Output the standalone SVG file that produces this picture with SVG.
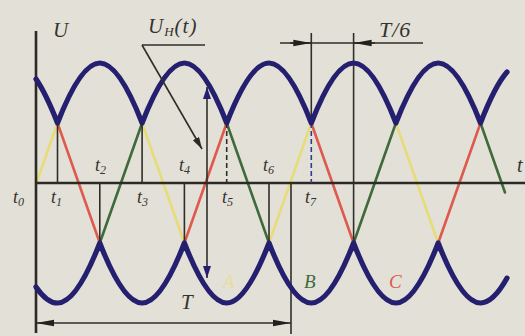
<svg xmlns="http://www.w3.org/2000/svg" width="525" height="336" viewBox="0 0 525 336">
<style>
.env{fill:none;stroke:#241f6e;stroke-width:5.2;stroke-linecap:round;stroke-linejoin:round}
.ph{stroke-width:2.6;stroke-linecap:round}
.y{stroke:#e6dc78}
.r{stroke:#de5a4e}
.g{stroke:#3f6a3c}
.ax{stroke:#2b2a24;stroke-width:2.6;fill:none}
.v{stroke:#2f2e28;stroke-width:1.6;fill:none}
.dash{stroke-dasharray:5 3}
.lbl{font-family:"Liberation Serif","Times New Roman",serif;font-style:italic;fill:#34332e}
.sub{font-size:12px}
</style>
<defs>
<marker id="ah" viewBox="0 0 18 8" refX="18" refY="4" markerWidth="18" markerHeight="8" markerUnits="userSpaceOnUse" orient="auto-start-reverse">
<path d="M0,0.8 L18,4 L0,7.2 z" fill="#22211d"/>
</marker>
<marker id="ahb" viewBox="0 0 12 8" refX="12" refY="4" markerWidth="12" markerHeight="8" markerUnits="userSpaceOnUse" orient="auto-start-reverse">
<path d="M0,0 L12,4 L0,8 z" fill="#241f6e"/>
</marker>
<marker id="ahs" viewBox="0 0 12 7" refX="12" refY="3.5" markerWidth="12" markerHeight="7" markerUnits="userSpaceOnUse" orient="auto">
<path d="M0,0 L12,3.5 L0,7 z" fill="#2b2a24"/>
</marker>
</defs>
<rect width="525" height="336" fill="#e3e0d7"/>

<g id="phases">
<line class="ph y" x1="36" y1="184" x2="57.5" y2="123"/>
<line class="ph y" x1="142.1" y1="123" x2="184.4" y2="243"/>
<line class="ph y" x1="269" y1="243" x2="311.3" y2="123"/>
<line class="ph y" x1="395.9" y1="123" x2="438.2" y2="243"/>
<line class="ph r" x1="57.5" y1="123" x2="99.8" y2="243"/>
<line class="ph r" x1="184.4" y1="243" x2="226.7" y2="123"/>
<line class="ph r" x1="311.3" y1="123" x2="353.6" y2="243"/>
<line class="ph r" x1="438.2" y1="243" x2="480.5" y2="123"/>
<line class="ph g" x1="99.8" y1="243" x2="142.1" y2="123"/>
<line class="ph g" x1="226.7" y1="123" x2="269" y2="243"/>
<line class="ph g" x1="353.6" y1="243" x2="395.9" y2="123"/>
<line class="ph g" x1="480.5" y1="123" x2="505" y2="192.5"/>
</g>

<g id="axes">
<line class="ax" x1="36" y1="31" x2="36" y2="333"/>
<line class="ax" x1="36" y1="183" x2="525" y2="183"/>
</g>

<g id="markers">
<line class="v" x1="57.5" y1="123" x2="57.5" y2="183"/>
<line class="v" x1="99.8" y1="183" x2="99.8" y2="243"/>
<line class="v" x1="142.1" y1="123" x2="142.1" y2="183"/>
<line class="v" x1="184.4" y1="183" x2="184.4" y2="243"/>
<line class="v dash" x1="226.7" y1="123" x2="226.7" y2="183"/>
<line class="v" x1="269" y1="183" x2="269" y2="243"/>
<line class="v" x1="311.3" y1="33" x2="311.3" y2="123"/>
<line class="v dash" x1="311.3" y1="123" x2="311.3" y2="183" style="stroke:#2d3f8a"/>
<line class="v" x1="353.6" y1="33" x2="353.6" y2="243"/>
<line class="v" x1="291" y1="183" x2="291" y2="334"/>
</g>

<g id="envelopes">
<path class="env" d="M36,79.08 C43.17,89.55 50.33,104.86 57.5,123 c14.1,-36.28 28.2,-60 42.3,-60 c14.1,0 28.2,23.72 42.3,60 c14.1,-36.28 28.2,-60 42.3,-60 c14.1,0 28.2,23.72 42.3,60 c14.1,-36.28 28.2,-60 42.3,-60 c14.1,0 28.2,23.72 42.3,60 c14.1,-36.28 28.2,-60 42.3,-60 c14.1,0 28.2,23.72 42.3,60 c14.1,-36.28 28.2,-60 42.3,-60 c14.1,0 28.2,23.72 42.3,60 C489.33,100.27 498.17,82.05 507,72.05"/>
<path class="env" d="M36,286.92 C43.17,297.39 50.33,303 57.5,303 c14.1,0 28.2,-23.72 42.3,-60 c14.1,36.28 28.2,60 42.3,60 c14.1,0 28.2,-23.72 42.3,-60 c14.1,36.28 28.2,60 42.3,60 c14.1,0 28.2,-23.72 42.3,-60 c14.1,36.28 28.2,60 42.3,60 c14.1,0 28.2,-23.72 42.3,-60 c14.1,36.28 28.2,60 42.3,60 c14.1,0 28.2,-23.72 42.3,-60 c14.1,36.28 28.2,60 42.3,60 C489.33,303 498.17,294.1 507,278.1"/>
</g>

<g id="dimensions">
<line class="v" x1="280" y1="43" x2="423" y2="43"/>
<line class="v" x1="290" y1="43" x2="311.3" y2="43" marker-end="url(#ah)"/>
<line class="v" x1="375" y1="43" x2="353.6" y2="43" marker-end="url(#ah)"/>
<line class="v" x1="36" y1="323" x2="291" y2="323" marker-start="url(#ah)" marker-end="url(#ah)"/>
<line class="v" x1="207" y1="87" x2="207" y2="278" marker-start="url(#ahb)" marker-end="url(#ahb)"/>
<line class="v" x1="142" y1="45" x2="205" y2="45"/>
<line class="v" x1="142" y1="45" x2="202" y2="149" marker-end="url(#ahs)"/>
</g>

<g id="labels" class="lbl">
<text x="53" y="37" font-size="21">U</text>
<text x="148" y="33" font-size="21" letter-spacing="1">U<tspan font-size="13" dy="3">H</tspan><tspan dy="-3">(t)</tspan></text>
<text x="379" y="37" font-size="22" letter-spacing="1">T/6</text>
<text x="517" y="172" font-size="20">t</text>
<text x="13" y="203" font-size="18">t<tspan class="sub" dy="3">0</tspan></text>
<text x="51" y="203" font-size="18">t<tspan class="sub" dy="3">1</tspan></text>
<text x="95" y="171" font-size="18">t<tspan class="sub" dy="3">2</tspan></text>
<text x="137" y="203" font-size="18">t<tspan class="sub" dy="3">3</tspan></text>
<text x="179" y="171" font-size="18">t<tspan class="sub" dy="3">4</tspan></text>
<text x="222" y="203" font-size="18">t<tspan class="sub" dy="3">5</tspan></text>
<text x="263" y="171" font-size="18">t<tspan class="sub" dy="3">6</tspan></text>
<text x="305" y="203" font-size="18">t<tspan class="sub" dy="3">7</tspan></text>
<text x="181" y="309" font-size="21">T</text>
<text x="223" y="288" font-size="19" style="fill:#e6df9a">A</text>
<text x="304" y="288" font-size="19" style="fill:#3f6a3c">B</text>
<text x="389" y="288" font-size="19" style="fill:#de5a4e">C</text>
</g>
</svg>
